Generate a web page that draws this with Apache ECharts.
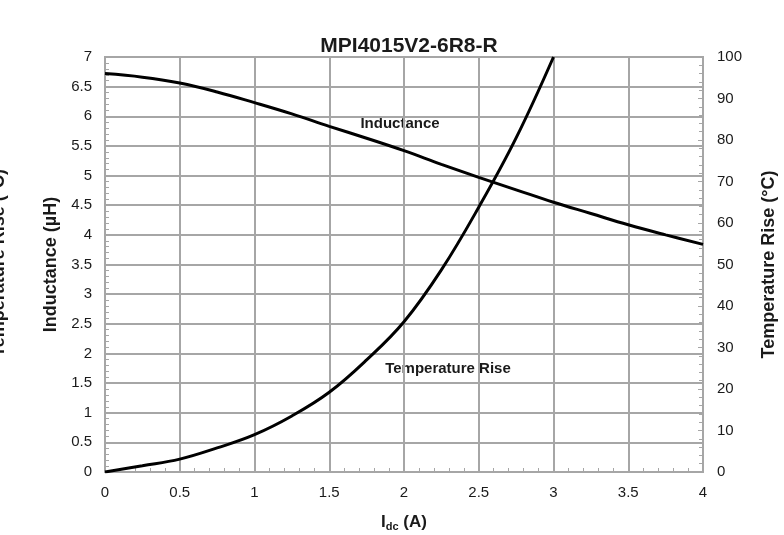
<!DOCTYPE html>
<html>
<head>
<meta charset="utf-8">
<script src="https://cdn.jsdelivr.net/npm/echarts@6/dist/echarts.min.js"></script>
<style>html,body{margin:0;padding:0;background:#fff}#c{width:784px;height:535px}</style>
</head>
<body>
<div id="c"></div>
<script>
const title = 'MPI4015V2-6R8-R';
const inductanceX = [0, 0.25, 0.5, 0.75, 1, 1.25, 1.5, 1.75, 2, 2.25, 2.5, 2.75, 3, 3.25, 3.5, 3.75, 4];
const inductanceY = [6.72, 6.66, 6.56, 6.41, 6.23, 6.04, 5.83, 5.63, 5.42, 5.19, 4.97, 4.76, 4.55, 4.36, 4.17, 4.00, 3.84];
const tempX = [0, 0.25, 0.5, 0.75, 1, 1.25, 1.5, 1.75, 2, 2.25, 2.5, 2.75, 3];
const tempY = [0, 1.5, 3.1, 5.8, 9.0, 13.5, 19.2, 27.0, 36.2, 48.7, 63.8, 80.5, 100];

const font = '"Liberation Sans", Arial, sans-serif';
const gray = '#a6a6a6';
const txt = '#1a1a1a';
const chart = echarts.init(document.getElementById('c'));
const tickStyle = {show: true, inside: true, length: 5, lineStyle: {color: gray, width: 1}};
const minorStyle = {show: true, splitNumber: 5, length: 4, lineStyle: {color: gray, width: 1}};
chart.setOption({
  animation: false,
  title: {text: title, left: 404, top: 31, textAlign: 'center',
    textStyle: {fontFamily: font, fontSize: 21, fontWeight: 'bold', color: txt}},
  grid: {left: 105, right: 81, top: 57, bottom: 63, show: true, borderColor: gray, borderWidth: 2,
    containLabel: false, outerBoundsMode: 'none'},
  xAxis: {
    type: 'value', min: 0, max: 4, interval: 0.5,
    axisLine: {lineStyle: {color: gray, width: 2}},
    axisTick: tickStyle,
    minorTick: minorStyle,
    splitLine: {show: true, lineStyle: {color: gray, width: 2}},
    axisLabel: {fontFamily: font, fontSize: 15, color: txt, margin: 13},
    name: '{m|I}{s|dc}{m| (A)}', nameLocation: 'middle', nameGap: 40,
    nameTextStyle: {rich: {m: {fontFamily: font, fontSize: 17, fontWeight: 'bold', color: txt},
                           s: {fontFamily: font, fontSize: 11, fontWeight: 'bold', color: txt, verticalAlign: 'bottom', padding: [9,0,0,0]}}}
  },
  yAxis: [{
    type: 'value', min: 0, max: 7, interval: 0.5,
    axisLine: {show: true, lineStyle: {color: gray, width: 2}},
    axisTick: tickStyle,
    minorTick: minorStyle,
    splitLine: {show: true, lineStyle: {color: gray, width: 2}},
    axisLabel: {fontFamily: font, fontSize: 15, color: txt, margin: 13},
    name: 'Inductance (µH)', nameLocation: 'middle', nameGap: 42, nameRotate: 90,
    nameTextStyle: {fontFamily: font, fontSize: 18, fontWeight: 'bold', color: txt}
  }, {
    type: 'value', min: 0, max: 100, interval: 10, position: 'right',
    axisLine: {show: true, lineStyle: {color: gray, width: 2}},
    axisTick: tickStyle,
    minorTick: minorStyle,
    splitLine: {show: false},
    axisLabel: {fontFamily: font, fontSize: 15, color: txt, margin: 14},
    name: 'Temperature Rise (°C)', nameLocation: 'middle', nameGap: 57, nameRotate: 90,
    nameTextStyle: {fontFamily: font, fontSize: 18, fontWeight: 'bold', color: txt}
  }],
  graphic: [
    {type: 'text', x: 400, y: 124, style: {text: 'Inductance', fontFamily: font, fontSize: 15, fontWeight: 'bold', fill: txt, align: 'center', verticalAlign: 'middle'}},
    {type: 'text', x: 448, y: 369, style: {text: 'Temperature Rise', fontFamily: font, fontSize: 15, fontWeight: 'bold', fill: txt, align: 'center', verticalAlign: 'middle'}},
    {type: 'text', x: -1, y: 263, rotation: Math.PI / 2, style: {text: 'Temperature Rise (°C)', fontFamily: font, fontSize: 18, fontWeight: 'bold', fill: txt, align: 'center', verticalAlign: 'middle'}}
  ],
  series: [{
    type: 'line', yAxisIndex: 0, smooth: 0.4, showSymbol: false,
    lineStyle: {color: '#000', width: 3},
    data: inductanceX.map((x, i) => [x, inductanceY[i]])
  }, {
    type: 'line', yAxisIndex: 1, smooth: 0.4, showSymbol: false,
    lineStyle: {color: '#000', width: 3},
    data: tempX.map((x, i) => [x, tempY[i]])
  }]
});
</script>
</body>
</html>
